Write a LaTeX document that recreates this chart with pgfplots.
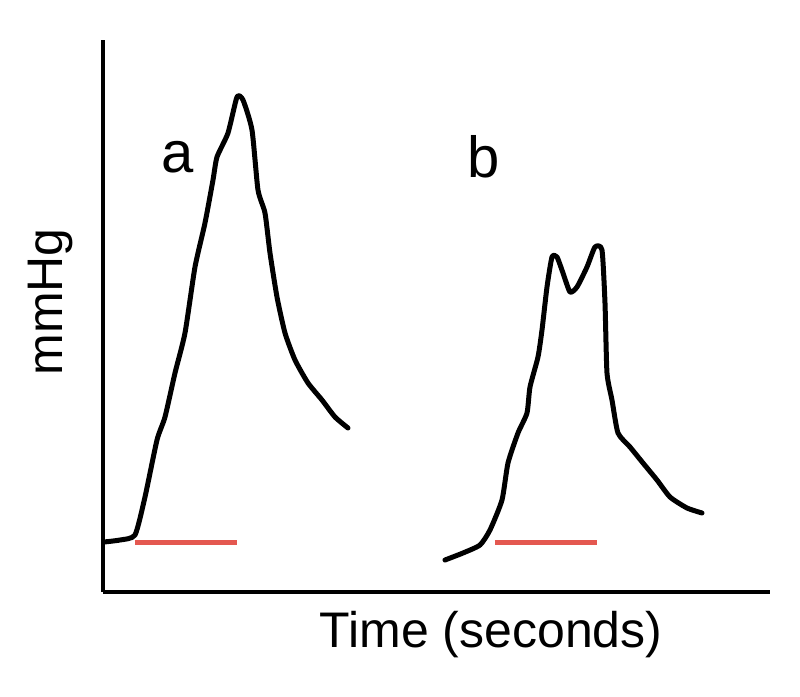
\documentclass[border=0pt]{standalone}
\usepackage{fontspec}
\setmainfont{Liberation Sans}
\usepackage{pgfplots}
\pgfplotsset{compat=1.18}
\definecolor{barred}{RGB}{228,88,80}
\begin{document}
\begin{tikzpicture}
\begin{axis}[
    x=0.5pt, y=0.5pt,
    xmin=103, xmax=770,
    ymin=105, ymax=657,
    axis x line=bottom,
    axis y line=left,
    axis line style={line width=2pt,-},
    xtick=\empty, ytick=\empty,
    clip=false,
]
% curve a (pixel coords, y measured from bottom)
\addplot[black, line width=2.5pt, line join=round, line cap=round, smooth, tension=0.35] coordinates {
    (104,155) (120,157) (135,162) (145,200) (157,257) (165,280) (175,324)
    (185,364) (195,430) (205,474) (213,517) (217,540) (228,564) (237,600)
    (243,597) (252,567) (258,507) (265,484) (270,444) (277,400) (285,364)
    (295,337) (308,314) (322,297) (335,280) (348,269)
};
% curve b
\addplot[black, line width=2.5pt, line join=round, line cap=round, smooth, tension=0.35] coordinates {
    (445,137) (463,144) (480,152) (490,167) (502,197) (508,234) (518,264)
    (527,284) (530,310) (538,340) (542,367) (547,410) (552,440) (557,440)
    (563,424) (570,405) (577,410) (587,430) (595,450) (602,447) (605,394)
    (607,324) (612,297) (618,264) (630,250) (643,234) (657,217) (670,200)
    (687,189) (702,184)
};
% stimulus bars
\addplot[barred, line width=2.5pt] coordinates {(135,154) (237,154)};
\addplot[barred, line width=2.5pt] coordinates {(495,154) (597,154)};
\node[font=\fontsize{29}{34}\selectfont] at (axis cs:178,540) {a};
\node[font=\fontsize{29}{34}\selectfont] at (axis cs:484,540) {b};
\node[font=\fontsize{25}{30}\selectfont] at (axis cs:491,62) {Time (seconds)};
\node[font=\fontsize{25}{30}\selectfont, rotate=90] at (axis cs:50,395) {mmHg};
\path (axis cs:0,0) rectangle (axis cs:800,697);
\end{axis}
\end{tikzpicture}
\end{document}
